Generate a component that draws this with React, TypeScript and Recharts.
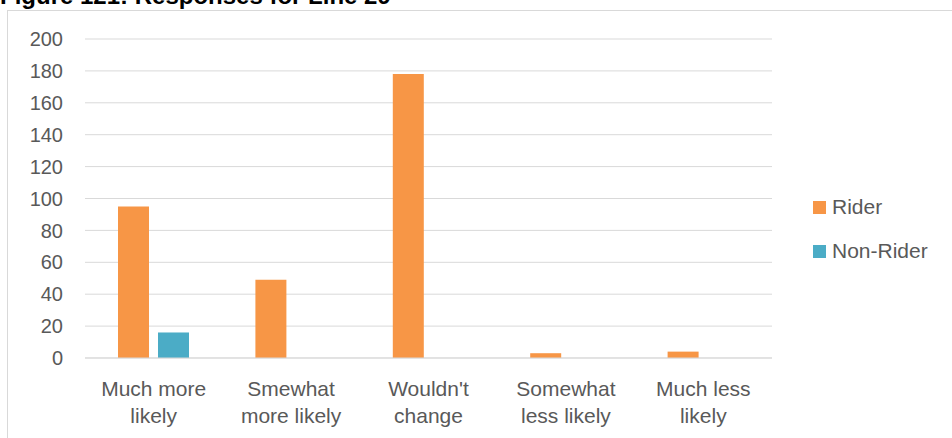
import { Bar, BarChart, CartesianGrid, XAxis, YAxis } from "recharts";

// categories (line breaks as in the figure)
const categories = [
  "Much more\nlikely",
  "Smewhat\nmore likely",
  "Wouldn't\nchange",
  "Somewhat\nless likely",
  "Much less\nlikely",
];
const riderValues = [95, 49, 178, 3, 4];
const nonRiderValues = [16, 0, 0, 0, 0];
const yTicks = [0, 20, 40, 60, 80, 100, 120, 140, 160, 180, 200];

const series = [
  { key: "rider", name: "Rider", color: "#F79646" },
  { key: "nonRider", name: "Non-Rider", color: "#4BACC6" },
];

const data = categories.map((c, i) => ({
  name: c,
  rider: riderValues[i],
  nonRider: nonRiderValues[i],
}));

const FONT = '"Liberation Sans", Arial, sans-serif';
const TEXT = "#595959";
const GRID = "#D9D9D9";

const CategoryTick = (props: any) => {
  const { x, y, payload } = props;
  const lines = String(payload.value).split("\n");
  return (
    <g>
      {lines.map((l: string, i: number) => (
        <text
          key={i}
          x={x}
          y={y + 38 + i * 27}
          textAnchor="middle"
          fill={TEXT}
          fontSize={21}
          fontFamily={FONT}
        >
          {l}
        </text>
      ))}
    </g>
  );
};

export default function App() {
  return (
    <div style={{ position: "absolute", left: 0, top: 0, width: 952, height: 438, overflow: "hidden", background: "#fff" }}>
      <div
        style={{
          position: "absolute",
          left: 0,
          top: -16,
          fontFamily: FONT,
          fontWeight: "bold",
          fontSize: 24,
          lineHeight: "24px",
          color: "#000",
          whiteSpace: "nowrap",
        }}
      >
        Figure 121: Responses for Line 29
      </div>
      <div
        style={{
          position: "absolute",
          left: 7,
          top: 10,
          width: 960,
          height: 450,
          borderLeft: `1px solid ${GRID}`,
          borderTop: `1px solid ${GRID}`,
        }}
      />
      <div style={{ position: "absolute", left: 0, top: 0 }}>
        <BarChart
          width={952}
          height={438}
          data={data}
          margin={{ top: 39, right: 180, left: 0, bottom: 0 }}
          barCategoryGap={33}
          barGap={9}
        >
          <CartesianGrid vertical={false} stroke={GRID} />
          <XAxis
            dataKey="name"
            tickLine={false}
            axisLine={{ stroke: GRID }}
            tickSize={0}
            tickMargin={0}
            tick={<CategoryTick />}
            interval={0}
            height={80}
          />
          <YAxis
            width={85}
            domain={[0, 200]}
            ticks={yTicks}
            interval={0}
            tickLine={false}
            axisLine={false}
            tickSize={0}
            tickMargin={22}
            tick={{ fill: TEXT, fontSize: 20, fontFamily: FONT }}
          />
          {series.map((s) => (
            <Bar key={s.key} dataKey={s.key} name={s.name} fill={s.color} isAnimationActive={false} />
          ))}
        </BarChart>
      </div>
      <div style={{ position: "absolute", left: 813, top: 185, fontFamily: FONT, fontSize: 21, color: TEXT }}>
        {series.map((s) => (
          <div key={s.key} style={{ display: "flex", alignItems: "center", height: 44 }}>
            <span style={{ width: 13, height: 13, background: s.color, display: "inline-block", marginRight: 6 }} />
            <span>{s.name}</span>
          </div>
        ))}
      </div>
    </div>
  );
}
